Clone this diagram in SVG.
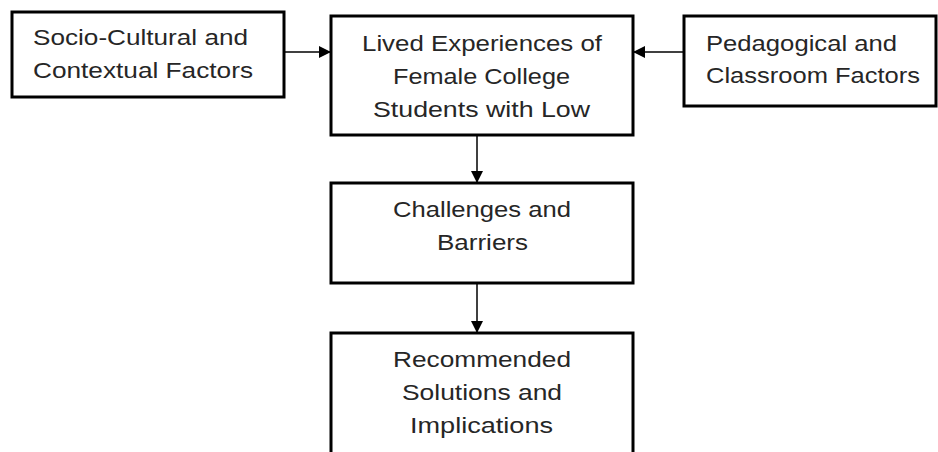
<svg xmlns="http://www.w3.org/2000/svg" width="938" height="452" viewBox="0 0 938 452">
<style>
.box{fill:#fff;stroke:#000;stroke-width:3}
.t{font-family:"Liberation Sans",Arial,sans-serif;font-size:22px;fill:#262626}
.c{stroke:#000;stroke-width:1.5;fill:none}
</style>
<defs>
<marker id="ah" viewBox="0 0 12 12" refX="12" refY="6" markerWidth="12" markerHeight="12" markerUnits="userSpaceOnUse" orient="auto">
<path d="M0,0 L12,6 L0,12 Z" fill="#000"/>
</marker>
</defs>
<rect width="938" height="452" fill="#fff"/>
<g id="connectors">
<line class="c" x1="284" y1="52" x2="331" y2="52" marker-end="url(#ah)"/>
<line class="c" x1="684" y1="52" x2="633" y2="52" marker-end="url(#ah)"/>
<line class="c" x1="477" y1="135" x2="477" y2="183" marker-end="url(#ah)"/>
<line class="c" x1="477" y1="283" x2="477" y2="333" marker-end="url(#ah)"/>
</g>
<g id="socio">
<rect class="box" x="12" y="12" width="272" height="85"/>
<text class="t" x="33" y="45" textLength="215" lengthAdjust="spacingAndGlyphs">Socio-Cultural and</text>
<text class="t" x="33" y="78" textLength="220" lengthAdjust="spacingAndGlyphs">Contextual Factors</text>
</g>
<g id="lived">
<rect class="box" x="331" y="16" width="302" height="119"/>
<text class="t" x="362" y="51" textLength="240" lengthAdjust="spacingAndGlyphs">Lived Experiences of</text>
<text class="t" x="393" y="84" textLength="177" lengthAdjust="spacingAndGlyphs">Female College</text>
<text class="t" x="373" y="117" textLength="217" lengthAdjust="spacingAndGlyphs">Students with Low</text>
</g>
<g id="pedagogical">
<rect class="box" x="684" y="16" width="252" height="90"/>
<text class="t" x="706" y="51" textLength="191" lengthAdjust="spacingAndGlyphs">Pedagogical and</text>
<text class="t" x="706" y="83" textLength="214" lengthAdjust="spacingAndGlyphs">Classroom Factors</text>
</g>
<g id="challenges">
<rect class="box" x="331" y="183" width="302" height="100"/>
<text class="t" x="393" y="217" textLength="178" lengthAdjust="spacingAndGlyphs">Challenges and</text>
<text class="t" x="437" y="250" textLength="91" lengthAdjust="spacingAndGlyphs">Barriers</text>
</g>
<g id="recommended">
<rect class="box" x="331" y="333" width="302" height="130"/>
<text class="t" x="393" y="367" textLength="178" lengthAdjust="spacingAndGlyphs">Recommended</text>
<text class="t" x="402" y="400" textLength="160" lengthAdjust="spacingAndGlyphs">Solutions and</text>
<text class="t" x="410" y="433" textLength="143" lengthAdjust="spacingAndGlyphs">Implications</text>
</g>
</svg>
